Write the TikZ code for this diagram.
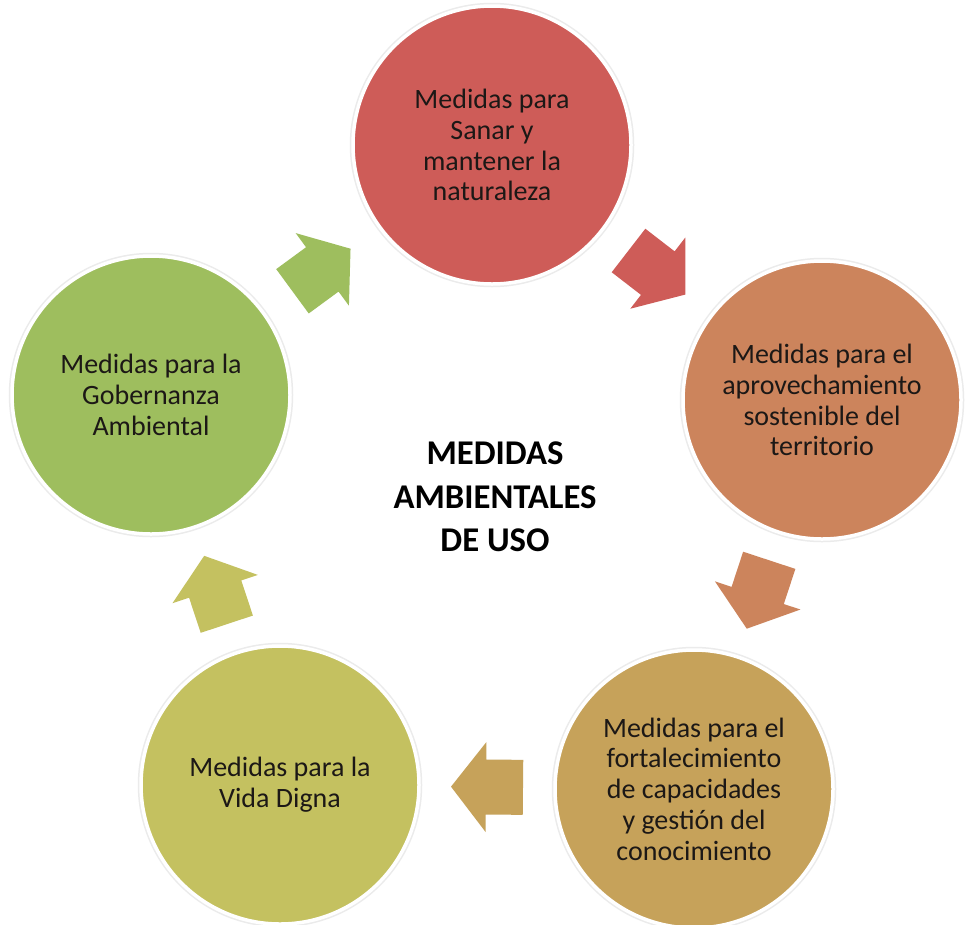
\documentclass[tikz,border=0pt]{standalone}
\usepackage{fontspec}
\setmainfont{Carlito}
\usetikzlibrary{calc}
\definecolor{cred}{RGB}{206,92,88}
\definecolor{corange}{RGB}{204,132,92}
\definecolor{ctan}{RGB}{198,162,90}
\definecolor{colive}{RGB}{196,193,96}
\definecolor{cgreen}{RGB}{158,190,94}
\definecolor{ctext}{RGB}{28,24,22}
\newcommand\blockarrow[3]{%
  \path let \p1=($(#2)-(#1)$), \n1={atan2(\y1,\x1)} in \pgfextra{\xdef\myarrang{\n1}};
  \fill[#3, shift={($(#1)!0.5!(#2)$)}, rotate=\myarrang]
    (-36,-27.5) -- (1,-27.5) -- (1,-45) -- (36,0) -- (1,45) -- (1,27.5) -- (-36,27.5) -- cycle;
}
\tikzset{
  circ/.style={circle, fill=#1, draw=white, line width=3.5pt,
    preaction={draw=black!8, line width=6.5pt},
    minimum size=278pt, inner sep=0pt, align=center, text=ctext,
    font=\fontsize{28}{30.8}\selectfont},
  titlebox/.style={align=center, text=black,
    font=\bfseries\fontsize{34.7}{43.5}\selectfont}
}
\begin{document}
\begin{tikzpicture}[x=1pt,y=-1pt]
\useasboundingbox[fill=white] (0,0) rectangle (965,924);
\node[circ=cred] (top) at (492,145) {Medidas para\\Sanar y\\mantener la\\naturaleza};
\node[circ=corange] (right) at (822,400) {Medidas para el\\aprovechamiento\\sostenible del\\territorio};
\node[circ=ctan] (bright) at (694,789) {Medidas para el\\fortalecimiento\\de capacidades\\y gestión del\\conocimiento};
\node[circ=colive] (bleft) at (280,785) {Medidas para la\\Vida Digna};
\node[circ=cgreen] (left) at (151,395) {Medidas para la\\Gobernanza\\Ambiental};
\node[titlebox] (title) at (495,497) {MEDIDAS\\AMBIENTALES\\DE USO};
\blockarrow{left}{top}{cgreen}
\blockarrow{top}{right}{cred}
\blockarrow{right}{bright}{corange}
\blockarrow{bright}{bleft}{ctan}
\blockarrow{bleft}{left}{colive}
\end{tikzpicture}
\end{document}
